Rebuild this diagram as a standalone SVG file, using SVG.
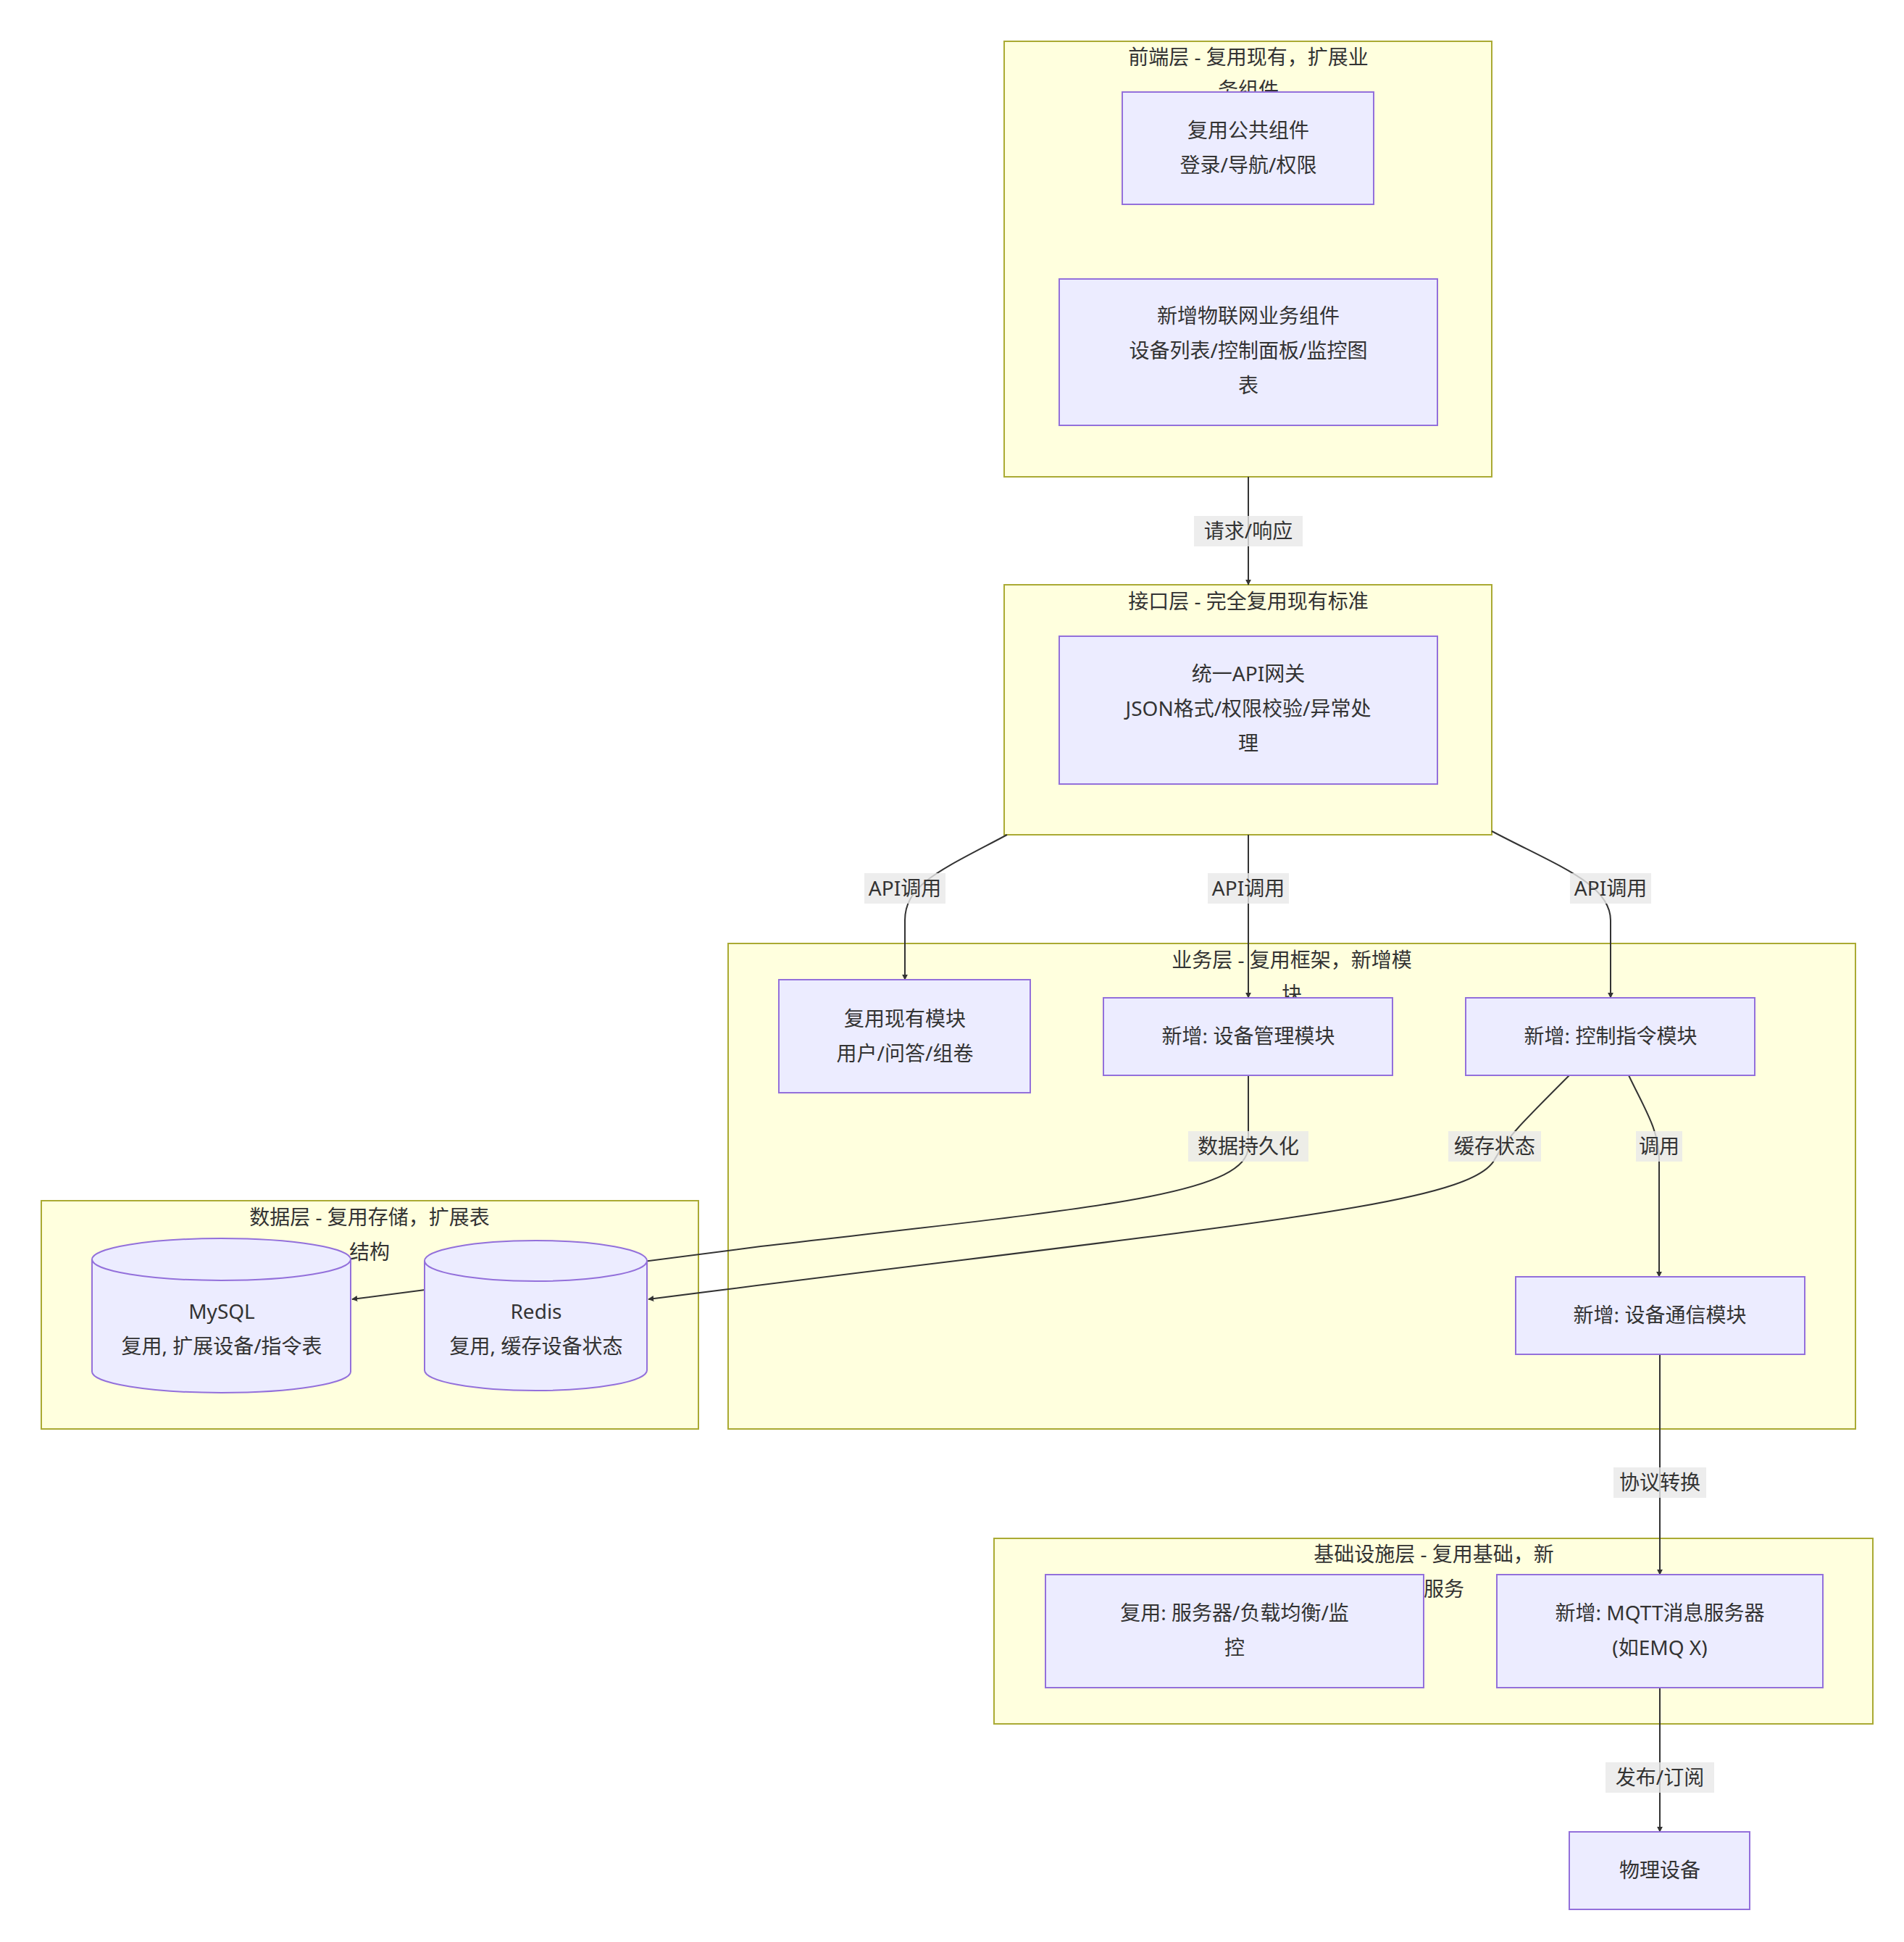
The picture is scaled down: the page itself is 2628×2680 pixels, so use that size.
<svg xmlns="http://www.w3.org/2000/svg" width="2628" height="2680" viewBox="0 0 2628 2680">
<defs>
<marker id="arr" viewBox="0 0 10 10" refX="9" refY="5" markerWidth="8" markerHeight="8" markerUnits="userSpaceOnUse" orient="auto"><path d="M0,0 L10,5 L0,10 z" fill="#333"/></marker>
<style>
text{font-family:"Noto Sans","Noto Sans CJK SC",sans-serif;font-size:28px;fill:#333;text-anchor:middle}
.cl{fill:#ffffde;stroke:#aaaa33;stroke-width:2}
.nd{fill:#ececff;stroke:#9370db;stroke-width:2}
.e{fill:none;stroke:#333;stroke-width:2;marker-end:url(#arr)}
.lb{fill:#e8e8e8;fill-opacity:0.8}
</style>
</defs>
<rect width="2628" height="2680" fill="#fff"/>
<g id="clusters">
<g id="c-front"><rect class="cl" x="1386" y="57" width="673" height="601"/><text x="1723" y="89">前端层 - 复用现有，扩展业</text><text x="1723" y="134">务组件</text></g>
<g id="c-api"><rect class="cl" x="1386" y="807" width="673" height="345"/><text x="1723" y="840">接口层 - 完全复用现有标准</text></g>
<g id="c-biz"><rect class="cl" x="1005" y="1302" width="1556" height="670"/><text x="1783" y="1335">业务层 - 复用框架，新增模</text><text x="1783" y="1382">块</text></g>
<g id="c-data"><rect class="cl" x="57" y="1657" width="907" height="315"/><text x="510" y="1690">数据层 - 复用存储，扩展表</text><text x="510" y="1738">结构</text></g>
<g id="c-infra"><rect class="cl" x="1372" y="2123" width="1213" height="256"/><text x="1979" y="2155">基础设施层 - 复用基础，新</text><text x="1979" y="2203">增服务</text></g>
</g>
<g id="edges">
<path class="e" d="M1723,658 L1723,807"/>
<path class="e" d="M1390,1152 C1300,1200 1249,1220 1249,1270 L1249,1352"/>
<path class="e" d="M1723,1152 L1723,1377"/>
<path class="e" d="M2059,1147 C2150,1195 2223,1220 2223,1270 L2223,1377"/>
<path class="e" d="M1723,1484 L1723,1582 C1723,1650 1500,1668 1050,1720 L486,1793"/>
<path class="e" d="M2166,1484 C2100,1550 2080,1570 2063,1600 C2030,1665 1700,1690 895,1793"/>
<path class="e" d="M2248,1484 C2270,1530 2290,1560 2290,1600 L2290,1762"/>
<path class="e" d="M2291,1869 L2291,2173"/>
<path class="e" d="M2291,2329 L2291,2528"/>
<g id="edge-labels">
<rect class="lb" x="1648" y="712" width="150" height="42"/><text x="1723" y="743">请求/响应</text>
<rect class="lb" x="1193" y="1205" width="112" height="42"/><text x="1249" y="1236">API调用</text>
<rect class="lb" x="1667" y="1205" width="112" height="42"/><text x="1723" y="1236">API调用</text>
<rect class="lb" x="2167" y="1205" width="112" height="42"/><text x="2223" y="1236">API调用</text>
<rect class="lb" x="1640" y="1561" width="166" height="42"/><text x="1723" y="1592">数据持久化</text>
<rect class="lb" x="1999" y="1561" width="128" height="42"/><text x="2063" y="1592">缓存状态</text>
<rect class="lb" x="2258" y="1561" width="64" height="42"/><text x="2290" y="1592">调用</text>
<rect class="lb" x="2227" y="2025" width="128" height="42"/><text x="2291" y="2056">协议转换</text>
<rect class="lb" x="2216" y="2432" width="150" height="42"/><text x="2291" y="2463">发布/订阅</text>
</g>
</g>
<g id="n-common"><rect class="nd" x="1549" y="127" width="347" height="155"/><text x="1723" y="190">复用公共组件</text><text x="1723" y="238">登录/导航/权限</text></g>
<g id="n-iot"><rect class="nd" x="1462" y="385" width="522" height="202"/><text x="1723" y="446">新增物联网业务组件</text><text x="1723" y="494">设备列表/控制面板/监控图</text><text x="1723" y="542">表</text></g>
<g id="n-gw"><rect class="nd" x="1462" y="878" width="522" height="204"/><text x="1723" y="940">统一API网关</text><text x="1723" y="988">JSON格式/权限校验/异常处</text><text x="1723" y="1036">理</text></g>
<g id="n-reuse"><rect class="nd" x="1075" y="1352" width="347" height="156"/><text x="1249" y="1416">复用现有模块</text><text x="1249" y="1464">用户/问答/组卷</text></g>
<g id="n-dev"><rect class="nd" x="1523" y="1377" width="399" height="107"/><text x="1723" y="1440">新增: 设备管理模块</text></g>
<g id="n-ctl"><rect class="nd" x="2023" y="1377" width="399" height="107"/><text x="2223" y="1440">新增: 控制指令模块</text></g>
<g id="n-comm"><rect class="nd" x="2092" y="1762" width="399" height="107"/><text x="2291" y="1825">新增: 设备通信模块</text></g>
<g id="n-mysql"><path class="nd" d="M127,1738 A178.5,29 0 0 1 484,1738 L484,1893 A178.5,29 0 0 1 127,1893 Z"/><path class="nd" d="M127,1738 A178.5,29 0 0 0 484,1738" fill="none"/><text x="306" y="1820">MySQL</text><text x="306" y="1868">复用, 扩展设备/指令表</text></g>
<g id="n-redis"><path class="nd" d="M586,1740 A153.5,28 0 0 1 893,1740 L893,1891 A153.5,28 0 0 1 586,1891 Z"/><path class="nd" d="M586,1740 A153.5,28 0 0 0 893,1740" fill="none"/><text x="740" y="1820">Redis</text><text x="740" y="1868">复用, 缓存设备状态</text></g>
<g id="n-srv"><rect class="nd" x="1443" y="2173" width="522" height="156"/><text x="1704" y="2236">复用: 服务器/负载均衡/监</text><text x="1704" y="2284">控</text></g>
<g id="n-mqtt"><rect class="nd" x="2066" y="2173" width="450" height="156"/><text x="2291" y="2236">新增: MQTT消息服务器</text><text x="2291" y="2284">(如EMQ X)</text></g>
<g id="n-phy"><rect class="nd" x="2166" y="2528" width="249" height="107"/><text x="2291" y="2591">物理设备</text></g>
</svg>
